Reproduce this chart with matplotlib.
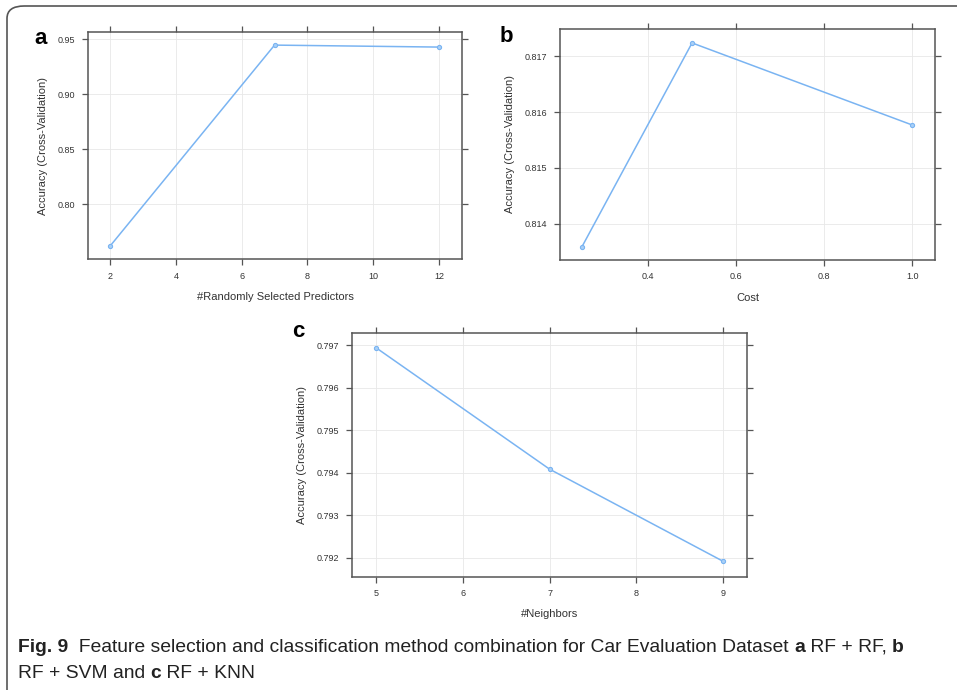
import matplotlib
matplotlib.use("Agg")
import matplotlib.pyplot as plt
from matplotlib.patches import FancyBboxPatch

# panel a: RF + RF
mtry = [2, 7, 12]
acc_a = [0.7618, 0.9445, 0.9427]
# panel b: RF + SVM
cost = [0.25, 0.5, 1.0]
acc_b = [0.81359, 0.81724, 0.81577]
# panel c: RF + KNN
k_neighbors = [5, 7, 9]
acc_c = [0.79694, 0.79408, 0.79191]

LINE = "#7ab4f2"
FRAME = "#555555"
TXT = "#333333"
plt.rcParams['font.family'] = ['Liberation Sans', 'DejaVu Sans']


def lattice_axes(fig, rect, x, y, xticks, yticks, xlim, ylim, xlabel, yfmt):
    ax = fig.add_axes(rect)
    ax.plot(x, y, color=LINE, lw=1.1, marker="o", ms=3,
            mfc="#a9d0f7", mec=LINE, mew=0.8, zorder=3)
    ax.set_xlim(*xlim)
    ax.set_ylim(*ylim)
    ax.set_xticks(xticks)
    ax.set_yticks(yticks)
    ax.set_yticklabels([yfmt.format(v) for v in yticks])
    ax.grid(True, color="#e8e8e8", lw=0.6)
    ax.set_axisbelow(True)
    for s in ax.spines.values():
        s.set_color(FRAME)
        s.set_linewidth(1.1)
    ax.tick_params(direction="out", length=4, width=0.9, color=FRAME,
                   labelsize=6.5, labelcolor=TXT, pad=5,
                   top=True, right=True)
    ax.set_xlabel(xlabel, fontsize=8, color=TXT, labelpad=8)
    ax.set_ylabel("Accuracy (Cross-Validation)", fontsize=8, color=TXT,
                  labelpad=7)
    return ax


fig = plt.figure(figsize=(9.57, 6.90), dpi=100)

# outer rounded frame (cropped on the right/bottom)
box = FancyBboxPatch((7 / 957, -0.02), 1.1, 1 - 6 / 690 + 0.02,
                     boxstyle="round,pad=0,rounding_size=0.018",
                     transform=fig.transFigure, fill=False,
                     ec="#555555", lw=1.2, clip_on=False)
fig.patches.append(box)

lattice_axes(fig, [0.092, 0.6246, 0.3908, 0.329], mtry, acc_a,
             [2, 4, 6, 8, 10, 12], [0.80, 0.85, 0.90, 0.95],
             (1.33, 12.7), (0.75, 0.9564),
             "#Randomly Selected Predictors", "{:.2f}")

lattice_axes(fig, [0.5852, 0.6232, 0.3918, 0.3348], cost, acc_b,
             [0.4, 0.6, 0.8, 1.0], [0.814, 0.815, 0.816, 0.817],
             (0.2, 1.052), (0.81335, 0.81749),
             "Cost", "{:.3f}")

lattice_axes(fig, [0.3675, 0.1642, 0.4128, 0.3528], k_neighbors, acc_c,
             [5, 6, 7, 8, 9], [0.792, 0.793, 0.794, 0.795, 0.796, 0.797],
             (4.72, 9.27), (0.79155, 0.79728),
             "#Neighbors", "{:.3f}")

# panel letters
for lab, px, py in [("a", 34, 38), ("b", 500, 37), ("c", 292, 331)]:
    fig.text(px / 957, 1 - py / 690, lab, fontsize=16, fontweight="bold",
             va="center")

# caption, drawn piece by piece
renderer = fig.canvas.get_renderer()
lines = [
    [("Fig. 9", True), ("  Feature selection and classification method combination for Car Evaluation Dataset ", False),
     ("a", True), (" RF + RF, ", False), ("b", True)],
    [("RF + SVM and ", False), ("c", True), (" RF + KNN", False)],
]
for i, parts in enumerate(lines):
    xpos = 18
    ypos = 1 - (652 + 26 * i) / 690
    for txt, bold in parts:
        t = fig.text(xpos / 957, ypos, txt, fontsize=13.9, color="#222222",
                     fontweight="bold" if bold else "normal", va="baseline")
        xpos += t.get_window_extent(renderer).width

fig.savefig("out.png", dpi=100)
